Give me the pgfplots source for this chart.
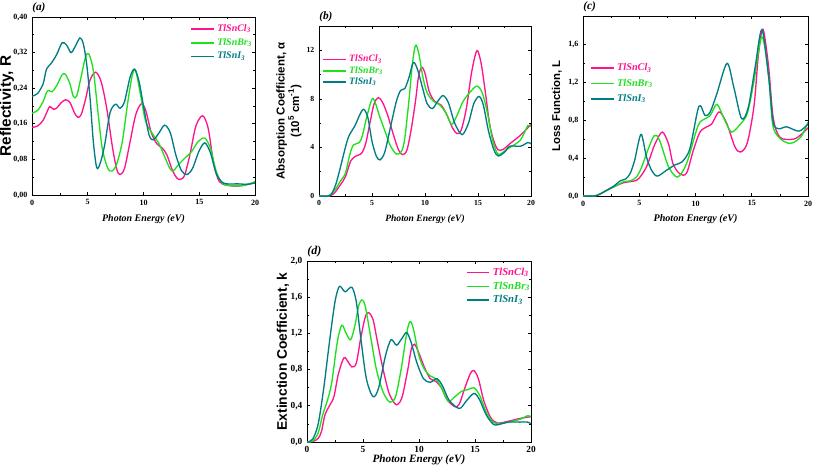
\documentclass[border=0pt]{standalone}
\usepackage{fontspec}
\setmainfont{Liberation Serif}
\newfontfamily\arial{Liberation Sans}
\usepackage{pgfplots}
\pgfplotsset{compat=1.18}
\definecolor{cl}{RGB}{255,20,140}
\definecolor{br}{RGB}{30,225,30}
\definecolor{ii}{RGB}{0,125,130}

\pgfplotsset{
  panel/.style={
    scale only axis, anchor=south west, clip mode=individual,
    xmin=0,xmax=20, xtick={0,5,10,15,20}, minor x tick num=1,
    minor y tick num=1,
    tick align=inside, major tick length=2.5pt, minor tick length=1.5pt,
    axis line style={line width=0.6pt},
    every tick/.style={line width=0.5pt, black},
    /pgf/number format/assume math mode=true,
    xlabel={Photon Energy (eV)},
    ylabel style={anchor=center},
    xlabel style={anchor=center},
    legend cell align=left,
    legend style={draw=none, fill=none, inner sep=0pt, row sep=1.5pt},
    legend image code/.code={\draw[#1, line width=1.2pt] (0pt,0pt) -- (17pt,0pt);},
    every axis plot/.append style={line width=1pt, smooth, no markers},
  },
}
\newcommand{\panellabel}[2]{\node[anchor=south west, inner sep=0pt, yshift=3pt, font=\fontsize{#2}{#2}\selectfont\bfseries\itshape] at (rel axis cs:0,1) {#1};}

\begin{document}
\begin{tikzpicture}
\useasboundingbox (0,0) rectangle (609.75pt,354pt);

% ---------------- (a) ----------------
\begin{axis}[panel,
  at={(24pt,207.75pt)}, width=167.25pt, height=133.5pt,
  ymin=0, ymax=0.40, ytick={0,0.08,0.16,0.24,0.32,0.40},
  yticklabel style={/pgf/number format/.cd, fixed, fixed zerofill, precision=2, use comma},
  tick label style={font=\fontsize{6}{7}\selectfont\bfseries},
  ylabel={Reflectivity, R},
  ylabel style={font=\fontsize{11.5}{13}\selectfont\arial\bfseries, at={(axis description cs:-0.112,0.5)}},
  xlabel style={font=\fontsize{7.5}{9}\selectfont\bfseries\itshape, at={(axis description cs:0.5,-0.135)}},
  legend style={at={(axis description cs:0.709,0.974)}, anchor=north west, font=\fontsize{7.5}{9}\selectfont\bfseries\itshape, row sep=-0.4pt},
]
\addplot[cl] coordinates {(0,0.152)(0.5,0.155)(1,0.168)(1.4,0.19)(1.6,0.199)(1.9,0.193)(2.2,0.195)(2.6,0.207)(3.0,0.214)(3.4,0.208)(3.8,0.185)(4.1,0.175)(4.4,0.18)(4.8,0.215)(5.2,0.258)(5.7,0.276)(6.2,0.255)(6.7,0.195)(7.2,0.11)(7.6,0.058)(7.9,0.046)(8.3,0.06)(8.8,0.12)(9.3,0.18)(9.8,0.205)(10.2,0.19)(10.7,0.14)(11.2,0.115)(11.7,0.105)(12.1,0.09)(12.6,0.055)(13.0,0.038)(13.3,0.035)(13.7,0.045)(14.2,0.095)(14.7,0.155)(15.3,0.178)(15.8,0.15)(16.3,0.07)(16.8,0.03)(17.5,0.022)(18.5,0.02)(19.3,0.024)(20,0.028)};
\addlegendentry{\textcolor{cl}{TlSnCl\textsubscript{3}}}
\addplot[br] coordinates {(0,0.184)(0.5,0.19)(1.0,0.21)(1.3,0.23)(1.5,0.235)(1.8,0.232)(2.2,0.245)(2.7,0.27)(3.0,0.271)(3.4,0.25)(3.7,0.222)(4.0,0.222)(4.4,0.265)(4.8,0.31)(5.1,0.317)(5.5,0.28)(5.9,0.19)(6.3,0.105)(6.8,0.06)(7.2,0.054)(7.6,0.07)(8.1,0.12)(8.6,0.21)(9.0,0.27)(9.3,0.279)(9.7,0.23)(10.2,0.165)(10.8,0.138)(11.4,0.115)(12.0,0.08)(12.4,0.058)(12.7,0.055)(13.2,0.07)(13.8,0.085)(14.3,0.097)(14.9,0.12)(15.5,0.128)(16.0,0.105)(16.5,0.055)(17.0,0.028)(17.5,0.022)(18.5,0.02)(19.3,0.023)(20,0.03)};
\addlegendentry{\textcolor{br}{TlSnBr\textsubscript{3}}}
\addplot[ii] coordinates {(0,0.222)(0.5,0.228)(1.0,0.25)(1.3,0.283)(1.7,0.295)(2.2,0.315)(2.7,0.342)(3.1,0.337)(3.5,0.32)(3.9,0.335)(4.3,0.353)(4.6,0.34)(4.9,0.295)(5.2,0.22)(5.5,0.12)(5.8,0.062)(6.1,0.07)(6.5,0.11)(7.0,0.185)(7.5,0.204)(7.9,0.195)(8.3,0.21)(8.8,0.265)(9.2,0.283)(9.6,0.255)(10.0,0.2)(10.5,0.135)(10.9,0.124)(11.4,0.14)(11.9,0.157)(12.4,0.14)(12.9,0.09)(13.4,0.055)(13.9,0.046)(14.4,0.06)(15.0,0.1)(15.5,0.117)(16.0,0.095)(16.5,0.05)(17.0,0.03)(17.5,0.025)(18.5,0.025)(19.3,0.024)(20,0.027)};
\addlegendentry{\textcolor{ii}{TlSnI\textsubscript{3}}}
\panellabel{(a)}{8.5}
\end{axis}

% ---------------- (b) ----------------
\begin{axis}[panel,
  at={(239.25pt,207pt)}, width=159pt, height=127.5pt,
  ymin=0, ymax=14, ytick={0,4,8,12},
  tick label style={font=\fontsize{5.8}{7}\selectfont\bfseries},
  ylabel={Absorption Coefficient, α\\(10\textsuperscript{5} cm\textsuperscript{-1})},
  ylabel style={font=\fontsize{8.6}{9.3}\selectfont\arial\bfseries, align=center, at={(axis description cs:-0.142,0.5)}},
  xlabel style={font=\fontsize{7.2}{9}\selectfont\bfseries\itshape, at={(axis description cs:0.5,-0.135)}},
  legend style={at={(axis description cs:0.014,0.847)}, anchor=north west, font=\fontsize{7.3}{8.5}\selectfont\bfseries\itshape, row sep=-2pt},
]
\addplot[cl] coordinates {(0,0)(1.0,0)(1.5,0.3)(2.0,0.9)(2.5,1.6)(3.0,2.9)(3.5,3.3)(4.0,3.5)(4.4,4.3)(4.8,6.0)(5.2,7.6)(5.6,8.1)(6.0,7.7)(6.5,6.6)(7.0,5.1)(7.5,3.8)(7.9,3.4)(8.3,3.8)(8.7,5.5)(9.1,7.8)(9.4,9.9)(9.7,10.6)(10.0,10.1)(10.4,8.6)(10.9,7.8)(11.5,7.5)(12.0,6.8)(12.6,5.6)(13.0,5.15)(13.4,5.4)(13.9,7.2)(14.4,10.2)(14.9,11.97)(15.3,10.9)(15.7,8.5)(16.1,5.9)(16.5,4.5)(16.9,3.8)(17.4,3.85)(18.0,4.3)(19.0,5.0)(20,5.9)};
\addlegendentry{\textcolor{cl}{TlSnCl\textsubscript{3}}}
\addplot[br] coordinates {(0,0)(0.9,0)(1.5,0.5)(2.0,1.2)(2.5,1.9)(2.9,3.4)(3.25,4.2)(3.8,4.4)(4.1,5.0)(4.5,6.5)(5.0,7.98)(5.3,7.7)(5.7,6.6)(6.2,5.4)(6.7,4.2)(7.3,3.45)(7.8,3.7)(8.1,4.8)(8.5,8.0)(8.8,10.8)(9.1,12.4)(9.4,11.8)(9.8,9.8)(10.2,8.5)(10.8,7.8)(11.4,7.5)(12.0,6.8)(12.5,5.9)(13.0,6.6)(13.6,7.8)(14.3,8.6)(14.9,9.05)(15.4,8.5)(15.9,6.8)(16.4,4.5)(16.9,3.45)(17.5,3.7)(18.0,4.0)(19.0,4.6)(19.7,5.8)(20,5.7)};
\addlegendentry{\textcolor{br}{TlSnBr\textsubscript{3}}}
\addplot[ii] coordinates {(0,0)(0.8,0)(1.2,0.2)(1.6,1.0)(2.0,2.3)(2.4,3.7)(2.8,4.9)(3.4,5.8)(3.8,6.6)(4.2,7.14)(4.6,6.5)(5.0,4.5)(5.4,3.3)(5.75,2.97)(6.2,3.6)(6.8,5.9)(7.3,7.8)(7.7,8.7)(8.1,8.85)(8.5,9.8)(8.9,11.0)(9.3,10.4)(9.8,8.8)(10.2,7.6)(10.7,7.2)(11.2,7.8)(11.7,8.27)(12.2,7.7)(12.8,6.0)(13.5,5.05)(14.1,6.0)(14.6,7.6)(15.1,8.2)(15.5,7.5)(16.0,5.3)(16.5,3.8)(16.9,3.3)(17.5,3.6)(18.0,4.1)(19.0,4.1)(19.7,4.4)(20,4.3)};
\addlegendentry{\textcolor{ii}{TlSnI\textsubscript{3}}}
\panellabel{(b)}{8.5}
\end{axis}

% ---------------- (c) ----------------
\begin{axis}[panel,
  at={(437.25pt,207pt)}, width=168.75pt, height=135pt,
  ymin=0, ymax=1.9, ytick={0,0.4,0.8,1.2,1.6},
  yticklabel style={/pgf/number format/.cd, fixed, fixed zerofill, precision=1, use comma},
  tick label style={font=\fontsize{6}{7}\selectfont\bfseries},
  ylabel={Loss Function, L},
  ylabel style={font=\fontsize{8.5}{10}\selectfont\arial\bfseries, at={(axis description cs:-0.116,0.5)}},
  xlabel style={font=\fontsize{7.6}{9}\selectfont\bfseries\itshape, at={(axis description cs:0.5,-0.128)}},
  legend style={at={(axis description cs:0.031,0.752)}, anchor=north west, font=\fontsize{7.7}{9}\selectfont\bfseries\itshape, row sep=0.7pt},
]
\addplot[cl] coordinates {(0,0)(1.0,0)(1.5,0.02)(2.1,0.06)(2.8,0.1)(3.6,0.14)(4.1,0.15)(4.75,0.165)(5.2,0.22)(5.65,0.31)(6.0,0.42)(6.4,0.55)(7.04,0.675)(7.6,0.55)(8.0,0.34)(8.6,0.235)(9.2,0.24)(9.8,0.48)(10.4,0.675)(11.0,0.73)(11.44,0.76)(11.9,0.86)(12.2,0.886)(12.8,0.76)(13.5,0.52)(14.0,0.464)(14.6,0.56)(15.2,0.95)(15.6,1.5)(16.0,1.76)(16.5,1.36)(16.9,0.83)(17.5,0.62)(18.7,0.6)(19.4,0.65)(20,0.72)};
\addlegendentry{\textcolor{cl}{TlSnCl\textsubscript{3}}}
\addplot[br] coordinates {(0,0)(1.0,0)(1.5,0.02)(2.1,0.06)(2.8,0.1)(3.6,0.15)(4.2,0.16)(4.75,0.2)(5.2,0.3)(5.65,0.45)(6.33,0.637)(6.8,0.59)(7.6,0.31)(8.4,0.2)(9.2,0.34)(10.0,0.66)(10.4,0.78)(11.3,0.85)(11.9,0.967)(12.6,0.8)(13.2,0.675)(14.0,0.76)(14.6,0.87)(15.15,1.18)(15.9,1.68)(16.5,1.26)(16.9,0.73)(17.8,0.58)(18.6,0.56)(19.4,0.63)(20,0.78)};
\addlegendentry{\textcolor{br}{TlSnBr\textsubscript{3}}}
\addplot[ii] coordinates {(0,0)(1.0,0)(1.5,0.02)(2.1,0.06)(2.8,0.11)(3.3,0.16)(3.8,0.18)(4.2,0.24)(4.6,0.38)(4.9,0.55)(5.2,0.65)(5.65,0.41)(6.1,0.27)(6.6,0.21)(7.4,0.27)(8.2,0.33)(8.8,0.36)(9.5,0.5)(10.3,0.946)(10.85,0.85)(11.3,0.886)(11.9,1.08)(12.8,1.4)(13.4,1.15)(14.1,0.816)(14.7,0.94)(15.3,1.36)(15.9,1.755)(16.5,1.26)(16.9,0.78)(17.4,0.71)(18.1,0.73)(19.2,0.685)(20,0.76)};
\addlegendentry{\textcolor{ii}{TlSnI\textsubscript{3}}}
\panellabel{(c)}{8.5}
\end{axis}

% ---------------- (d) ----------------
\begin{axis}[panel,
  at={(230.25pt,22.5pt)}, width=168pt, height=135.75pt,
  ymin=0, ymax=2.0, ytick={0,0.4,0.8,1.2,1.6,2.0},
  yticklabel style={/pgf/number format/.cd, fixed, fixed zerofill, precision=1, use comma},
  tick label style={font=\fontsize{7}{8}\selectfont\bfseries},
  ylabel={Extinction Coefficient, k},
  ylabel style={font=\fontsize{10.4}{12}\selectfont\arial\bfseries, at={(axis description cs:-0.107,0.5)}},
  xlabel style={font=\fontsize{8.4}{10}\selectfont\bfseries\itshape, at={(axis description cs:0.5,-0.1)}},
  legend style={at={(axis description cs:0.708,0.978)}, anchor=north west, font=\fontsize{8}{9.5}\selectfont\bfseries\itshape, row sep=-0.7pt},
]
\addplot[cl] coordinates {(0,0)(0.5,0.005)(1.0,0.04)(1.3,0.12)(1.6,0.3)(2.0,0.4)(2.4,0.5)(2.8,0.75)(3.3,0.93)(3.7,0.88)(4.0,0.83)(4.4,0.87)(4.8,1.15)(5.2,1.38)(5.5,1.43)(5.9,1.35)(6.3,1.1)(6.8,0.8)(7.3,0.55)(7.8,0.43)(8.1,0.415)(8.5,0.5)(9.0,0.8)(9.3,1.02)(9.6,1.08)(10.0,0.98)(10.5,0.82)(11.0,0.7)(11.5,0.67)(12.0,0.6)(12.5,0.47)(13.2,0.39)(13.6,0.42)(14.1,0.6)(14.6,0.76)(14.9,0.79)(15.3,0.7)(15.8,0.45)(16.4,0.27)(17.0,0.21)(18.0,0.23)(19.0,0.26)(20,0.28)};
\addlegendentry{\textcolor{cl}{TlSnCl\textsubscript{3}}}
\addplot[br] coordinates {(0,0)(0.5,0.01)(1.0,0.1)(1.4,0.3)(1.8,0.45)(2.2,0.65)(2.7,1.1)(3.1,1.29)(3.5,1.2)(3.9,1.13)(4.3,1.3)(4.6,1.5)(4.9,1.57)(5.2,1.5)(5.7,1.15)(6.2,0.8)(6.8,0.55)(7.4,0.44)(7.9,0.5)(8.4,0.8)(8.9,1.2)(9.2,1.33)(9.5,1.25)(10.0,0.95)(10.5,0.8)(11.0,0.73)(11.5,0.7)(12.0,0.6)(12.6,0.45)(13.2,0.5)(13.8,0.56)(14.4,0.58)(14.9,0.6)(15.4,0.52)(16.0,0.33)(16.6,0.22)(17.0,0.2)(18.0,0.22)(19.0,0.25)(19.7,0.29)(20,0.28)};
\addlegendentry{\textcolor{br}{TlSnBr\textsubscript{3}}}
\addplot[ii] coordinates {(0,0)(0.5,0.03)(1.0,0.2)(1.5,0.6)(2.0,1.1)(2.5,1.55)(2.9,1.72)(3.4,1.66)(4.0,1.71)(4.4,1.55)(4.8,1.15)(5.3,0.7)(5.9,0.5)(6.4,0.6)(7.0,0.95)(7.5,1.13)(8.0,1.07)(8.5,1.15)(8.9,1.21)(9.3,1.1)(9.8,0.88)(10.4,0.7)(11.0,0.66)(11.6,0.7)(12.1,0.62)(12.7,0.46)(13.6,0.37)(14.2,0.45)(14.7,0.52)(15.0,0.535)(15.4,0.47)(16.0,0.3)(16.6,0.2)(17.0,0.19)(18.0,0.22)(19.0,0.22)(19.7,0.22)(20,0.2)};
\addlegendentry{\textcolor{ii}{TlSnI\textsubscript{3}}}
\panellabel{(d)}{9}
\end{axis}
\end{tikzpicture}
\end{document}
